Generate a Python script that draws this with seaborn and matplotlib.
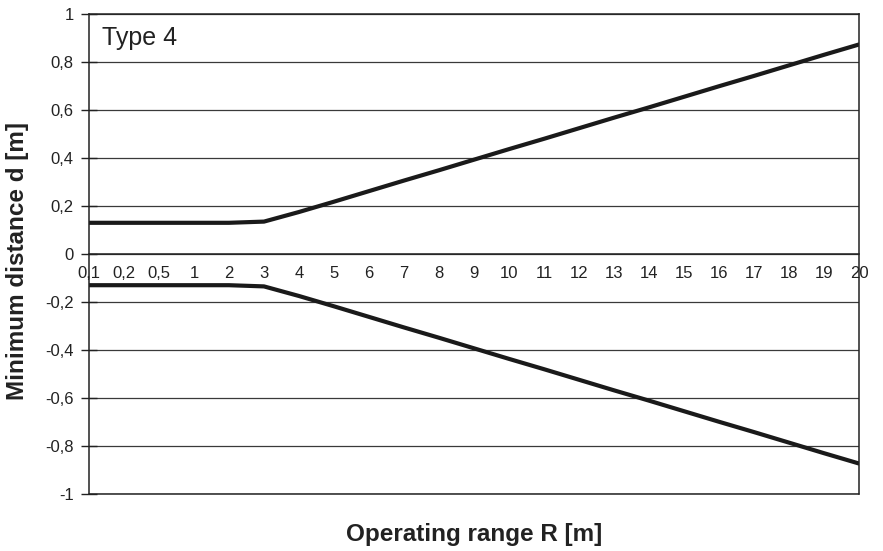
import pandas as pd
import seaborn as sns
import matplotlib.pyplot as plt

# Operating range categories (as printed on the axis)
ranges = ["0,1", "0,2", "0,5", "1", "2", "3", "4", "5", "6", "7", "8", "9", "10",
          "11", "12", "13", "14", "15", "16", "17", "18", "19", "20"]

# Minimum distance d [m], upper branch (lower branch is the mirror image)
d_upper = [0.13, 0.13, 0.13, 0.13, 0.13, 0.135, 0.175, 0.218, 0.262, 0.306, 0.349,
           0.393, 0.437, 0.480, 0.524, 0.568, 0.611, 0.655, 0.699, 0.742, 0.786,
           0.830, 0.873]
d_lower = [-v for v in d_upper]

y_ticks = [1, 0.8, 0.6, 0.4, 0.2, 0, -0.2, -0.4, -0.6, -0.8, -1]
y_labels = ["1", "0,8", "0,6", "0,4", "0,2", "0", "-0,2", "-0,4", "-0,6", "-0,8", "-1"]

df = pd.DataFrame({
    "R": ranges * 2,
    "d": d_upper + d_lower,
    "branch": ["upper"] * len(ranges) + ["lower"] * len(ranges),
})

sns.set_style("white")
plt.rcParams["font.family"] = ["Liberation Sans", "DejaVu Sans"]

fig = plt.figure(figsize=(8.83, 5.51), dpi=100)
ax = fig.add_axes([89 / 883, 1 - 494 / 551, 770 / 883, 480 / 551])

ax.set_yticks(y_ticks)
ax.set_yticklabels(y_labels)
ax.yaxis.grid(True, color="#3a3a3a", linewidth=0.9)
ax.set_axisbelow(True)

sns.lineplot(data=df, x="R", y="d", units="branch", estimator=None,
             color="#1a1a1a", linewidth=3, ax=ax, sort=False)

ax.set_xlim(0, len(ranges) - 1)
ax.set_ylim(-1, 1)

# x axis sits on the zero line, ticks pointing up
ax.spines["bottom"].set_position(("data", 0))
for s in ["left", "right", "top", "bottom"]:
    ax.spines[s].set_color("#222222")
    ax.spines[s].set_linewidth(1.1)
ax.axhline(-1, color="#222222", linewidth=1.1, clip_on=False)

ax.tick_params(axis="x", direction="in", length=5, width=1, color="#222222",
               pad=9, labelsize=12, labelcolor="#222222")
ax.tick_params(axis="y", direction="inout", length=12, width=1, color="#222222",
               pad=5, labelsize=12, labelcolor="#222222", left=True)

ax.set_xlabel("")
ax.set_ylabel("")
fig.text(474 / 883, 1 - 535 / 551, "Operating range R [m]", ha="center", va="center",
         fontsize=17.5, fontweight="bold", color="#222222")
fig.text(18 / 883, 1 - 261 / 551, "Minimum distance d [m]", ha="center", va="center",
         rotation=90, fontsize=17.5, fontweight="bold", color="#222222")
ax.text(0.017, 0.935, "Type 4", transform=ax.transAxes, ha="left", va="baseline",
        fontsize=18, color="#222222")

fig.savefig("out.png", dpi=100)
